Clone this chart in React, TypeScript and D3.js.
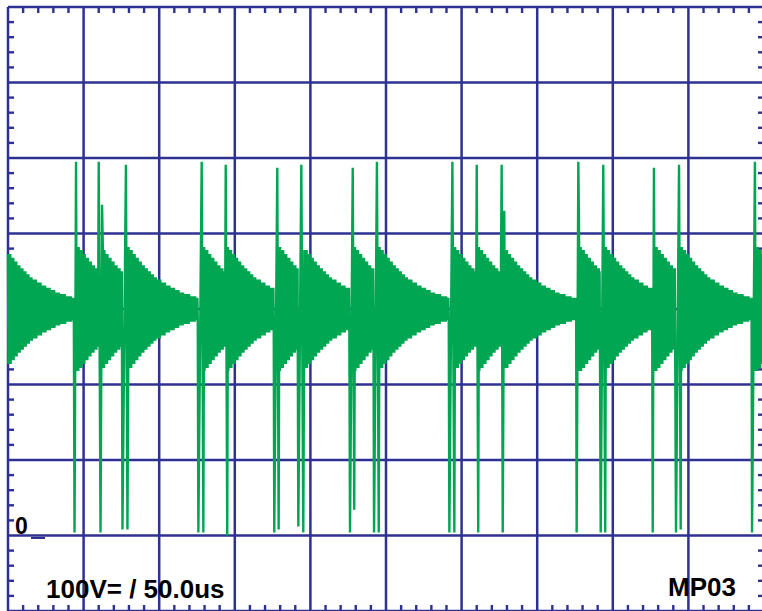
import React, { useMemo } from 'react';
import * as d3 from 'd3';

// ---- layout constants ----
const W = 762;
const H = 611;

// ---- axis / scale data ----
const timeDomain = [0, 500]; // microseconds, 10 div x 50us
const voltDomain = [-100, 700]; // volts, 8 div x 100V
const timePerDiv = 50;
const voltPerDiv = 100;
const minorPerDiv = 5;

// ---- signal data ----
const dcLevel = 300; // V, trace centre
// ringing envelope after each firing: time since firing (us) -> half amplitude (V)
const decayT = [0, 2, 4, 6, 8, 10, 12, 14, 16, 18, 20, 23, 26, 29, 32, 35, 38, 42, 46, 50];
const decayAmp = [82, 78, 73, 68, 63, 58, 54, 50, 46, 42, 39, 35, 31, 28, 25, 22, 20, 17, 15, 13];
const priorFiringT = -4; // firing just before the left edge
// spike groups: times (us) and levels (V)
const spikeTimes = [
  [44.0, 45.0],
  [60.0, 61.2, 62.2],
  [75.7, 78.0, 79.0],
  [125.9, 128.1, 129.2],
  [144.0, 145.0],
  [176.1, 178.1, 179.0],
  [192.0, 194.0, 195.3],
  [226.2, 228.0, 229.0],
  [242.1, 244.0, 245.2],
  [291.9, 293.9, 295.2],
  [310.0, 311.0],
  [326.5, 327.2, 328.2],
  [376.1, 377.2],
  [392.0, 393.7, 395.0],
  [426.4, 427.2],
  [441.8, 443.8, 444.9],
  [492.1, 494.0],
];
const spikeVolts = [
  [4, 495],
  [495, 4, 438],
  [8, 491, 8],
  [4, 495, 4],
  [491, 0],
  [4, 487, 8],
  [12, 491, 4],
  [4, 487, 34],
  [4, 495, 4],
  [4, 495, 4],
  [491, 4],
  [491, 4, 430],
  [4, 495],
  [4, 491, 4],
  [4, 487],
  [4, 491, 8],
  [4, 495],
];
const sampleStep = 0.25; // us between plotted samples of the ringing

const labelScale = '100V= / 50.0us';
const labelId = 'MP03';
const labelZero = '0';

const NAVY = '#2e3192';
const GREEN = '#00a651';
const FONT = '"Liberation Sans", Arial, Helvetica, sans-serif';

export default function App() {
  const x = d3.scaleLinear().domain(timeDomain).range([8, 764]);
  const y = d3.scaleLinear().domain(voltDomain).range([611, 7]);

  const pathD = useMemo(() => {
    const firings = [priorFiringT].concat(
      spikeTimes.map((ts, i) => {
        const v = spikeVolts[i];
        const idx = v.indexOf(d3.max(v) as number);
        return ts[idx];
      })
    );
    const windows = spikeTimes.map((ts) => [ts[0] - 0.3, ts[ts.length - 1] + 0.3]);
    const pts: [number, number][] = [];
    let k = 0;
    const n = Math.round((timeDomain[1] - timeDomain[0]) / sampleStep);
    for (let i = 0; i <= n; i++) {
      const t = timeDomain[0] + i * sampleStep;
      if (windows.some((w) => t >= w[0] && t <= w[1])) continue;
      let last = firings[0];
      for (const f of firings) if (f <= t) last = f;
      const dt = t - last;
      let idx = d3.bisectRight(decayT, dt) - 1;
      idx = Math.max(0, Math.min(decayAmp.length - 1, idx));
      const amp = decayAmp[idx];
      pts.push([t, dcLevel + (k % 2 === 0 ? amp : -amp)]);
      k++;
    }
    spikeTimes.forEach((ts, i) => ts.forEach((t, j) => pts.push([t, spikeVolts[i][j]])));
    pts.sort((a, b) => a[0] - b[0]);
    const line = d3
      .line<[number, number]>()
      .x((d) => x(d[0]))
      .y((d) => y(d[1]));
    return line(pts) || '';
  }, []);

  const xMajors = d3.range(timeDomain[0], timeDomain[1] + 0.001, timePerDiv);
  const yMajors = d3.range(voltDomain[0], voltDomain[1] + 0.001, voltPerDiv);
  const xMinors: number[] = [];
  xMajors.slice(0, -1).forEach((m) => {
    for (let k = 1; k < minorPerDiv; k++) xMinors.push(m + (k * timePerDiv) / minorPerDiv);
  });
  const yMinors: number[] = [];
  yMajors.slice(0, -1).forEach((m) => {
    for (let k = 1; k < minorPerDiv; k++) yMinors.push(m + (k * voltPerDiv) / minorPerDiv);
  });

  const top = y(voltDomain[1]);
  const bottom = y(voltDomain[0]);
  const left = x(timeDomain[0]);
  const right = x(timeDomain[1]);

  return (
    <svg
      width={W}
      height={H}
      style={{ position: 'absolute', left: 0, top: 0, background: '#fff' }}
    >
      <rect x={0} y={0} width={W} height={H} fill="#fff" />
      <g stroke={NAVY} strokeWidth={2.5}>
        {xMajors.map((t) => (
          <line key={'vx' + t} x1={x(t)} x2={x(t)} y1={top} y2={bottom} />
        ))}
        {yMajors.map((v) => (
          <line key={'hy' + v} x1={left} x2={right} y1={y(v)} y2={y(v)} />
        ))}
      </g>
      <g stroke={NAVY} strokeWidth={2.4}>
        {xMinors.map((t) => (
          <g key={'tx' + t}>
            <line x1={x(t)} x2={x(t)} y1={top} y2={top + 6} />
            <line x1={x(t)} x2={x(t)} y1={bottom} y2={bottom - 6} />
          </g>
        ))}
        {yMinors.map((v) => (
          <g key={'ty' + v}>
            <line x1={left} x2={left + 6} y1={y(v)} y2={y(v)} />
            <line x1={right} x2={right - 6} y1={y(v)} y2={y(v)} />
          </g>
        ))}
      </g>
      <path d={pathD} fill="none" stroke={GREEN} strokeWidth={2.4} strokeLinejoin="miter" strokeMiterlimit={1} />
      <text x={15} y={534} fontFamily={FONT} fontWeight="bold" fontSize={23} fill="#000">
        {labelZero}
      </text>
      <line x1={31} x2={45} y1={y(0) + 2.5} y2={y(0) + 2.5} stroke={NAVY} strokeWidth={2} />
      <text x={46} y={598} fontFamily={FONT} fontWeight="bold" fontSize={26} fill="#000">
        {labelScale}
      </text>
      <text x={668} y={596} fontFamily={FONT} fontWeight="bold" fontSize={26} fill="#000">
        {labelId}
      </text>
    </svg>
  );
}
